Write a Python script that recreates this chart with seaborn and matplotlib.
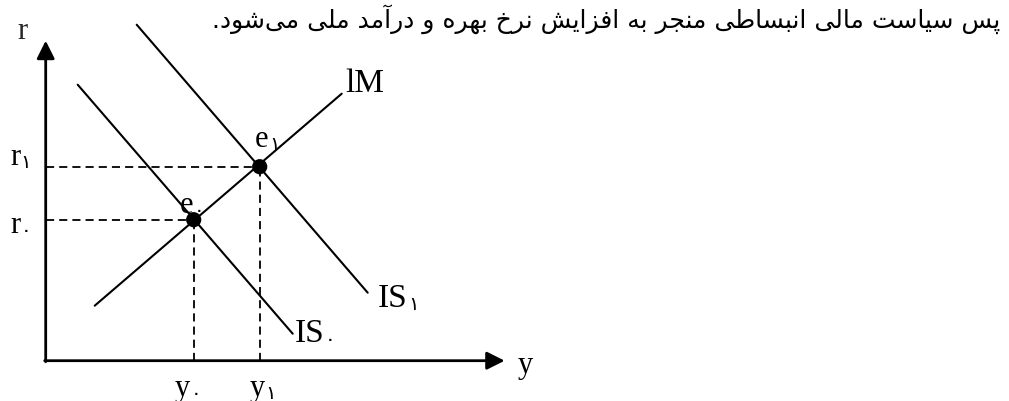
import matplotlib
matplotlib.use('Agg')
import matplotlib.pyplot as plt
import seaborn as sns

# IS-LM diagram, coordinates measured from the origin of the axes
lm_x = [49, 296]
lm_y = [55, 267]
is0_x = [32, 247]
is0_y = [276, 27]
is1_x = [91, 322]
is1_y = [336, 68]
eq_x = [148, 214]      # e0, e1
eq_y = [141, 194]
r_axis_top = 320
y_axis_end = 459

caption = 'پس سیاست مالی انبساطی منجر به افزایش نرخ بهره و درآمد ملی می\u200cشود.'

# presentation forms: isolated, final, initial, medial
FORMS = {
    'ا': ('\uFE8D', '\uFE8E', None, None),
    'آ': ('\uFE81', '\uFE82', None, None),
    'ب': ('\uFE8F', '\uFE90', '\uFE91', '\uFE92'),
    'پ': ('\uFB56', '\uFB57', '\uFB58', '\uFB59'),
    'ت': ('\uFE95', '\uFE96', '\uFE97', '\uFE98'),
    'ج': ('\uFE9D', '\uFE9E', '\uFE9F', '\uFEA0'),
    'خ': ('\uFEA5', '\uFEA6', '\uFEA7', '\uFEA8'),
    'د': ('\uFEA9', '\uFEAA', None, None),
    'ر': ('\uFEAD', '\uFEAE', None, None),
    'ز': ('\uFEAF', '\uFEB0', None, None),
    'س': ('\uFEB1', '\uFEB2', '\uFEB3', '\uFEB4'),
    'ش': ('\uFEB5', '\uFEB6', '\uFEB7', '\uFEB8'),
    'ط': ('\uFEC1', '\uFEC2', '\uFEC3', '\uFEC4'),
    'ف': ('\uFED1', '\uFED2', '\uFED3', '\uFED4'),
    'ل': ('\uFEDD', '\uFEDE', '\uFEDF', '\uFEE0'),
    'م': ('\uFEE1', '\uFEE2', '\uFEE3', '\uFEE4'),
    'ن': ('\uFEE5', '\uFEE6', '\uFEE7', '\uFEE8'),
    'ه': ('\uFEE9', '\uFEEA', '\uFEEB', '\uFEEC'),
    'و': ('\uFEED', '\uFEEE', None, None),
    'ی': ('\uFEEF', '\uFEF0', '\uFEF3', '\uFEF4'),
}


def shape(s):
    out = []
    for i, ch in enumerate(s):
        if ch == '\u200c':
            continue
        if ch not in FORMS:
            out.append(ch)
            continue
        prev = s[i - 1] if i > 0 else ''
        nxt = s[i + 1] if i + 1 < len(s) else ''
        join_prev = prev in FORMS and FORMS[prev][2] is not None
        join_next = FORMS[ch][2] is not None and nxt in FORMS
        iso, fin, ini, med = FORMS[ch]
        if join_prev and join_next:
            out.append(med)
        elif join_prev:
            out.append(fin)
        elif join_next:
            out.append(ini)
        else:
            out.append(iso)
    return ''.join(out)[::-1]


sns.set_theme(style='white')
plt.rcParams['font.family'] = ['Liberation Serif', 'DejaVu Sans']

fig = plt.figure(figsize=(10.09, 4.02), dpi=100)
ax = fig.add_axes([0, 0, 1, 1])
ax.set_xlim(-45.7, 963.3)
ax.set_ylim(-40.3, 361.7)
ax.axis('off')

# axes with arrows
arrow = dict(arrowstyle='-|>', lw=2, color='black', mutation_scale=27,
             shrinkA=0, shrinkB=0)
ax.annotate('', xy=(0, r_axis_top), xytext=(0, -1), arrowprops=arrow)
ax.annotate('', xy=(y_axis_end, 0), xytext=(-1, 0), arrowprops=arrow)

# curves
for xs, ys in [(lm_x, lm_y), (is0_x, is0_y), (is1_x, is1_y)]:
    sns.lineplot(x=xs, y=ys, color='black', lw=1.5, estimator=None,
                 sort=False, ax=ax)

# dashed guides
for ex, ey in zip(eq_x, eq_y):
    sns.lineplot(x=[0, ex], y=[ey, ey], color='black', lw=1.3,
                 estimator=None, sort=False, ax=ax, dashes=False,
                 linestyle=(0, (4.5, 2.8)))
    sns.lineplot(x=[ex, ex], y=[0, ey], color='black', lw=1.3,
                 estimator=None, sort=False, ax=ax, dashes=False,
                 linestyle=(0, (4.5, 2.8)))

sns.scatterplot(x=eq_x, y=eq_y, color='black', s=120, edgecolor='none',
                ax=ax, zorder=5)


def label(x, y, main, sub=None, size=22):
    t = ax.text(x, y, main, fontsize=size, ha='left', va='baseline',
                family='Liberation Serif', color='black')
    if sub:
        ax.annotate(sub, xy=(1, y), xycoords=(t, 'data'), xytext=(0.3, -2),
                    textcoords='offset points', fontsize=14, ha='left',
                    va='baseline', family='DejaVu Sans', color='black')
    return t


ax.text(-23.7, 322.7, 'r', fontsize=22, ha='center', va='baseline',
        family='Liberation Serif')
label(-35.7, 196.7, 'r', '۱')
label(-35.7, 128.7, 'r', '۰')
label(209.3, 214.7, 'e', '۱')
label(134.3, 148.7, 'e', '۰')
label(332.3, 54.7, 'IS', '۱', size=24)
label(249.3, 19.7, 'IS', '۰', size=24)
label(299.3, 269.7, 'lM', size=24)
label(472.3, -11.3, 'y')
label(129.3, -34.5, 'y', '۰')
label(204.3, -34.5, 'y', '۱')

cap = ax.text(954.3, 333.7, shape(caption), ha='right', va='baseline',
              family='DejaVu Sans', fontsize=19, color='black')
fig.canvas.draw()
w = cap.get_window_extent().width
cap.set_fontsize(19 * 790 / w)

fig.savefig('out.png', dpi=100)
